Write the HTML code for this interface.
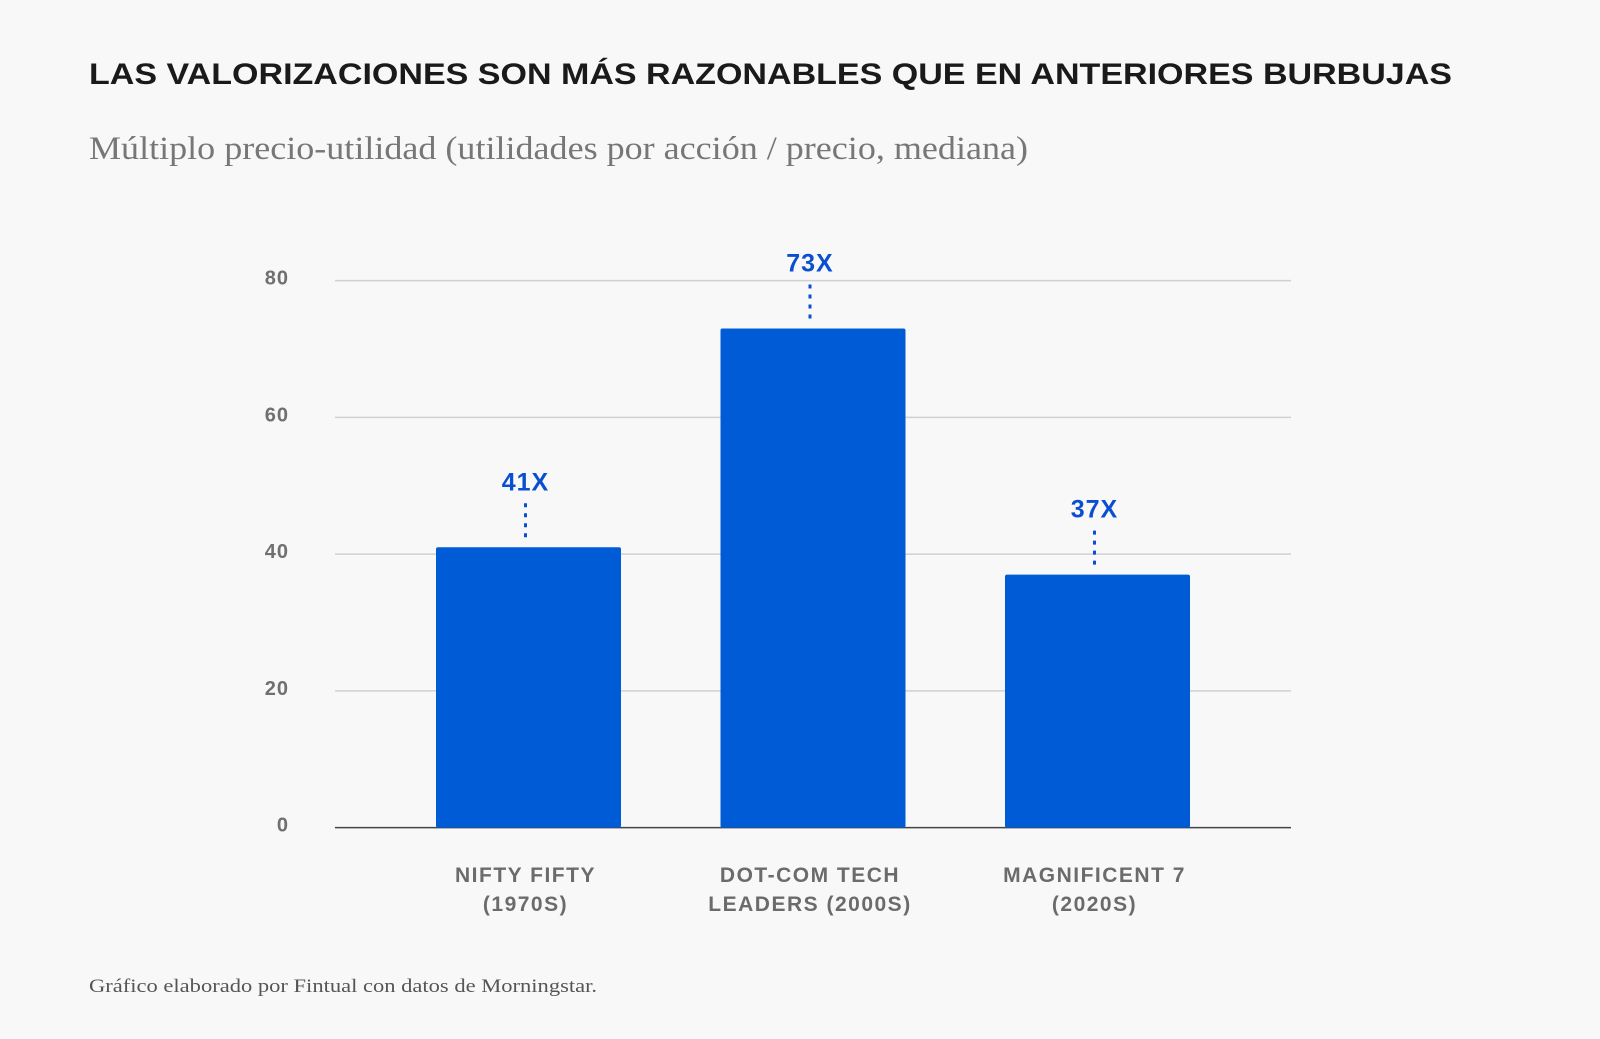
<!DOCTYPE html>
<html><head><meta charset="utf-8"><style>
html,body{margin:0;padding:0;background:#f8f8f8;}
svg{display:block;}
</style></head><body>
<svg id="chart" width="1600" height="1039" viewBox="0 0 1600 1039" xmlns="http://www.w3.org/2000/svg">
<rect width="1600" height="1039" fill="#f8f8f8"/>
<text x="89" y="84" font-family="Liberation Sans, sans-serif" font-weight="bold" font-size="30" fill="#1a1a1a" textLength="1363" lengthAdjust="spacingAndGlyphs">LAS VALORIZACIONES SON MÁS RAZONABLES QUE EN ANTERIORES BURBUJAS</text>
<text x="89" y="159" font-family="Liberation Serif, serif" font-size="33" fill="#777" textLength="939" lengthAdjust="spacingAndGlyphs">Múltiplo precio-utilidad (utilidades por acción / precio, mediana)</text>
<text x="89" y="992" font-family="Liberation Serif, serif" font-size="19" fill="#555" textLength="508" lengthAdjust="spacingAndGlyphs">Gráfico elaborado por Fintual con datos de Morningstar.</text>
<g id="grid"></g><g id="bars"></g><g id="labels"></g>
</svg>
<script>
const categoriesLine1 = ["NIFTY FIFTY", "DOT-COM TECH", "MAGNIFICENT 7"];
const categoriesLine2 = ["(1970S)", "LEADERS (2000S)", "(2020S)"];
const values = [41, 73, 37];
const valueLabels = ["41X", "73X", "37X"];
const yTicks = [0, 20, 40, 60, 80];

const NS = "http://www.w3.org/2000/svg";
const plotL = 335, plotR = 1291, y0 = 827.6, yPer = (827.6 - 280.6) / 80;
const yScale = v => y0 - v * yPer;
const xCenter = i => 528.5 + i * 284.5;
const barW = 185;
function mk(tag, attrs, parent){const e=document.createElementNS(NS,tag);for(const k in attrs)e.setAttribute(k,attrs[k]);parent.appendChild(e);return e;}
const grid = document.getElementById('grid'), bars = document.getElementById('bars'), labels = document.getElementById('labels');
yTicks.forEach(t => {
  const y = yScale(t);
  const l = mk('line', {x1:plotL, x2:plotR, y1:y, y2:y, stroke: t===0 ? '#444' : '#d0d0d0', 'stroke-width': 1.5}, grid);
  
  
  const tx = mk('text', {x:289, y:y+4, 'text-anchor':'end', 'font-family':'Liberation Sans, sans-serif', 'font-weight':'bold', 'font-size':20, fill:'#707070', 'letter-spacing':1}, grid);
  tx.textContent = t;
  
  
});
values.forEach((v, i) => {
  const cx = xCenter(i), top = yScale(v);
  const r = mk('rect', {x:cx-barW/2, y:top, width:barW, height:y0-top, fill:'#005bd6', rx:2}, bars);
  
  
  const d = mk('line', {x1:cx-3, x2:cx-3, y1:top-10, y2:top-44, stroke:'#0a4fd1', 'stroke-width':3, 'stroke-dasharray':'4 6'}, labels);
  
  
  const vt = mk('text', {x:cx-3, y:top-57, 'text-anchor':'middle', 'font-family':'Liberation Sans, sans-serif', 'font-weight':'bold', 'font-size':25, fill:'#0a4fd1', 'letter-spacing':1}, labels);
  vt.textContent = valueLabels[i];
  
  
  const c1 = mk('text', {x:cx-3, y:882, 'text-anchor':'middle', 'font-family':'Liberation Sans, sans-serif', 'font-weight':'bold', 'font-size':21, fill:'#6b6b6b', 'letter-spacing':1.5}, labels);
  c1.textContent = categoriesLine1[i];
  
  
  const c2 = mk('text', {x:cx-3, y:911, 'text-anchor':'middle', 'font-family':'Liberation Sans, sans-serif', 'font-weight':'bold', 'font-size':21, fill:'#6b6b6b', 'letter-spacing':1.5}, labels);
  c2.textContent = categoriesLine2[i];
  
  
});
</script>
</body></html>
